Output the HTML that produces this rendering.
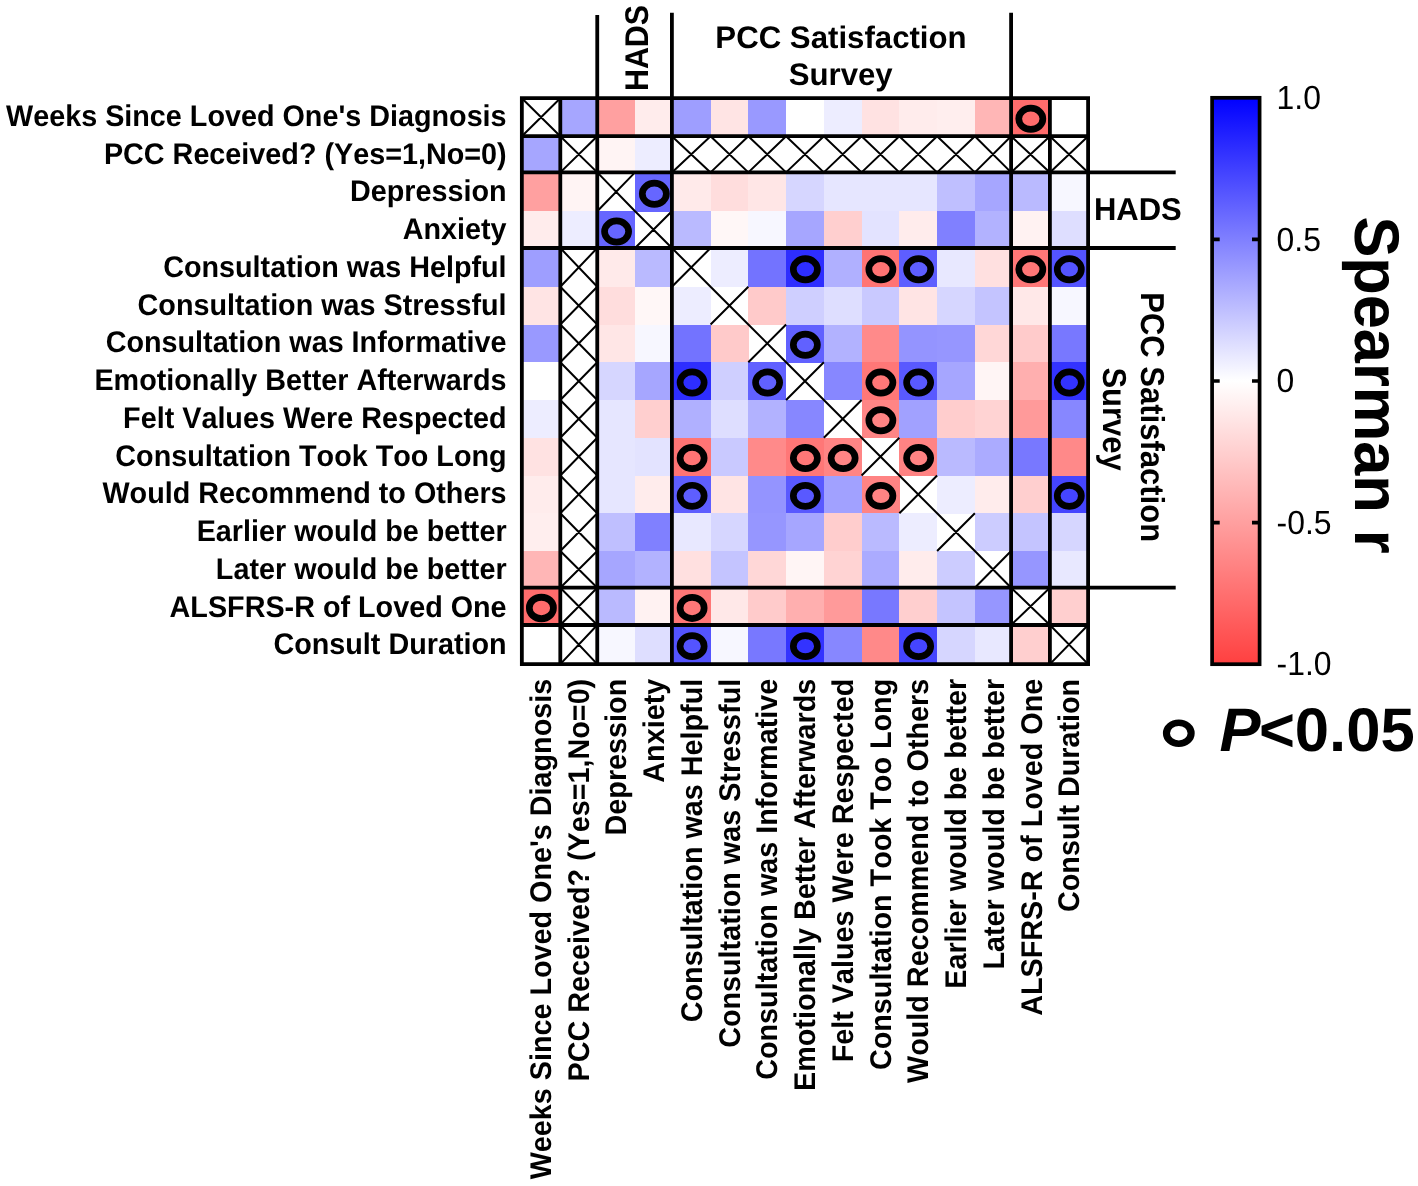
<!DOCTYPE html>
<html><head><meta charset="utf-8"><title>Spearman correlation heatmap</title>
<style>
html,body{margin:0;padding:0;background:#fff;}
body{width:1418px;height:1186px;overflow:hidden;font-family:"Liberation Sans",sans-serif;}
svg{display:block;text-rendering:geometricPrecision;font-kerning:none;}
#wrap{transform:translateZ(0);will-change:transform;}
</style></head><body>
<div id="wrap">
<svg width="1418" height="1186" viewBox="0 0 1418 1186" font-family="Liberation Sans, sans-serif" fill="#000">
<rect width="1418" height="1186" fill="#fff"/>
<g shape-rendering="crispEdges">
<rect x="560.3" y="98.2" width="37.25" height="38.3" fill="rgb(166,166,255)"/>
<rect x="597.25" y="98.2" width="38.11" height="38.3" fill="rgb(255,160,160)"/>
<rect x="635.06" y="98.2" width="37.14" height="38.3" fill="rgb(255,236,236)"/>
<rect x="671.9" y="98.2" width="38.97" height="38.3" fill="rgb(158,158,255)"/>
<rect x="710.57" y="98.2" width="38.05" height="38.3" fill="rgb(255,228,228)"/>
<rect x="748.33" y="98.2" width="38.06" height="38.3" fill="rgb(153,153,255)"/>
<rect x="786.09" y="98.2" width="38.05" height="38.3" fill="rgb(255,255,255)"/>
<rect x="823.84" y="98.2" width="38.06" height="38.3" fill="rgb(237,237,255)"/>
<rect x="861.6" y="98.2" width="38.05" height="38.3" fill="rgb(255,226,226)"/>
<rect x="899.35" y="98.2" width="38.06" height="38.3" fill="rgb(255,236,236)"/>
<rect x="937.11" y="98.2" width="38.05" height="38.3" fill="rgb(255,238,238)"/>
<rect x="974.86" y="98.2" width="36.54" height="38.3" fill="rgb(255,182,182)"/>
<rect x="1011.1" y="98.2" width="39.1" height="38.3" fill="rgb(255,108,108)"/>
<rect x="1049.9" y="98.2" width="38.5" height="38.3" fill="rgb(255,255,255)"/>
<rect x="521.85" y="136.2" width="38.75" height="36.5" fill="rgb(166,166,255)"/>
<rect x="597.25" y="136.2" width="38.11" height="36.5" fill="rgb(255,244,244)"/>
<rect x="635.06" y="136.2" width="37.14" height="36.5" fill="rgb(237,237,255)"/>
<rect x="521.85" y="172.4" width="38.75" height="39.17" fill="rgb(255,160,160)"/>
<rect x="560.3" y="172.4" width="37.25" height="39.17" fill="rgb(255,244,244)"/>
<rect x="635.06" y="172.4" width="37.14" height="39.17" fill="rgb(102,102,255)"/>
<rect x="671.9" y="172.4" width="38.97" height="39.17" fill="rgb(255,234,234)"/>
<rect x="710.57" y="172.4" width="38.05" height="39.17" fill="rgb(255,221,221)"/>
<rect x="748.33" y="172.4" width="38.06" height="39.17" fill="rgb(255,230,230)"/>
<rect x="786.09" y="172.4" width="38.05" height="39.17" fill="rgb(214,214,255)"/>
<rect x="823.84" y="172.4" width="38.06" height="39.17" fill="rgb(230,230,255)"/>
<rect x="861.6" y="172.4" width="38.05" height="39.17" fill="rgb(230,230,255)"/>
<rect x="899.35" y="172.4" width="38.06" height="39.17" fill="rgb(230,230,255)"/>
<rect x="937.11" y="172.4" width="38.05" height="39.17" fill="rgb(191,191,255)"/>
<rect x="974.86" y="172.4" width="36.54" height="39.17" fill="rgb(166,166,255)"/>
<rect x="1011.1" y="172.4" width="39.1" height="39.17" fill="rgb(186,186,255)"/>
<rect x="1049.9" y="172.4" width="38.5" height="39.17" fill="rgb(247,247,255)"/>
<rect x="521.85" y="211.27" width="38.75" height="37.03" fill="rgb(255,236,236)"/>
<rect x="560.3" y="211.27" width="37.25" height="37.03" fill="rgb(237,237,255)"/>
<rect x="597.25" y="211.27" width="38.11" height="37.03" fill="rgb(102,102,255)"/>
<rect x="671.9" y="211.27" width="38.97" height="37.03" fill="rgb(186,186,255)"/>
<rect x="710.57" y="211.27" width="38.05" height="37.03" fill="rgb(255,247,247)"/>
<rect x="748.33" y="211.27" width="38.06" height="37.03" fill="rgb(247,247,255)"/>
<rect x="786.09" y="211.27" width="38.05" height="37.03" fill="rgb(166,166,255)"/>
<rect x="823.84" y="211.27" width="38.06" height="37.03" fill="rgb(255,207,207)"/>
<rect x="861.6" y="211.27" width="38.05" height="37.03" fill="rgb(227,227,255)"/>
<rect x="899.35" y="211.27" width="38.06" height="37.03" fill="rgb(255,236,236)"/>
<rect x="937.11" y="211.27" width="38.05" height="37.03" fill="rgb(128,128,255)"/>
<rect x="974.86" y="211.27" width="36.54" height="37.03" fill="rgb(178,178,255)"/>
<rect x="1011.1" y="211.27" width="39.1" height="37.03" fill="rgb(255,242,242)"/>
<rect x="1049.9" y="211.27" width="38.5" height="37.03" fill="rgb(222,222,255)"/>
<rect x="521.85" y="248" width="38.75" height="39.07" fill="rgb(158,158,255)"/>
<rect x="597.25" y="248" width="38.11" height="39.07" fill="rgb(255,234,234)"/>
<rect x="635.06" y="248" width="37.14" height="39.07" fill="rgb(186,186,255)"/>
<rect x="710.57" y="248" width="38.05" height="39.07" fill="rgb(237,237,255)"/>
<rect x="748.33" y="248" width="38.06" height="39.07" fill="rgb(115,115,255)"/>
<rect x="786.09" y="248" width="38.05" height="39.07" fill="rgb(46,46,255)"/>
<rect x="823.84" y="248" width="38.06" height="39.07" fill="rgb(176,176,255)"/>
<rect x="861.6" y="248" width="38.05" height="39.07" fill="rgb(255,116,116)"/>
<rect x="899.35" y="248" width="38.06" height="39.07" fill="rgb(94,94,255)"/>
<rect x="937.11" y="248" width="38.05" height="39.07" fill="rgb(232,232,255)"/>
<rect x="974.86" y="248" width="36.54" height="39.07" fill="rgb(255,224,224)"/>
<rect x="1011.1" y="248" width="39.1" height="39.07" fill="rgb(255,119,119)"/>
<rect x="1049.9" y="248" width="38.5" height="39.07" fill="rgb(84,84,255)"/>
<rect x="521.85" y="286.77" width="38.75" height="38.06" fill="rgb(255,228,228)"/>
<rect x="597.25" y="286.77" width="38.11" height="38.06" fill="rgb(255,221,221)"/>
<rect x="635.06" y="286.77" width="37.14" height="38.06" fill="rgb(255,247,247)"/>
<rect x="671.9" y="286.77" width="38.97" height="38.06" fill="rgb(237,237,255)"/>
<rect x="748.33" y="286.77" width="38.06" height="38.06" fill="rgb(255,202,202)"/>
<rect x="786.09" y="286.77" width="38.05" height="38.06" fill="rgb(207,207,255)"/>
<rect x="823.84" y="286.77" width="38.06" height="38.06" fill="rgb(222,222,255)"/>
<rect x="861.6" y="286.77" width="38.05" height="38.06" fill="rgb(201,201,255)"/>
<rect x="899.35" y="286.77" width="38.06" height="38.06" fill="rgb(255,228,228)"/>
<rect x="937.11" y="286.77" width="38.05" height="38.06" fill="rgb(214,214,255)"/>
<rect x="974.86" y="286.77" width="36.54" height="38.06" fill="rgb(196,196,255)"/>
<rect x="1011.1" y="286.77" width="39.1" height="38.06" fill="rgb(255,232,232)"/>
<rect x="1049.9" y="286.77" width="38.5" height="38.06" fill="rgb(247,247,255)"/>
<rect x="521.85" y="324.53" width="38.75" height="38.05" fill="rgb(153,153,255)"/>
<rect x="597.25" y="324.53" width="38.11" height="38.05" fill="rgb(255,230,230)"/>
<rect x="635.06" y="324.53" width="37.14" height="38.05" fill="rgb(247,247,255)"/>
<rect x="671.9" y="324.53" width="38.97" height="38.05" fill="rgb(115,115,255)"/>
<rect x="710.57" y="324.53" width="38.05" height="38.05" fill="rgb(255,202,202)"/>
<rect x="786.09" y="324.53" width="38.05" height="38.05" fill="rgb(97,97,255)"/>
<rect x="823.84" y="324.53" width="38.06" height="38.05" fill="rgb(178,178,255)"/>
<rect x="861.6" y="324.53" width="38.05" height="38.05" fill="rgb(255,138,138)"/>
<rect x="899.35" y="324.53" width="38.06" height="38.05" fill="rgb(148,148,255)"/>
<rect x="937.11" y="324.53" width="38.05" height="38.05" fill="rgb(150,150,255)"/>
<rect x="974.86" y="324.53" width="36.54" height="38.05" fill="rgb(255,215,215)"/>
<rect x="1011.1" y="324.53" width="39.1" height="38.05" fill="rgb(255,203,203)"/>
<rect x="1049.9" y="324.53" width="38.5" height="38.05" fill="rgb(120,120,255)"/>
<rect x="521.85" y="362.29" width="38.75" height="38.05" fill="rgb(255,255,255)"/>
<rect x="597.25" y="362.29" width="38.11" height="38.05" fill="rgb(214,214,255)"/>
<rect x="635.06" y="362.29" width="37.14" height="38.05" fill="rgb(166,166,255)"/>
<rect x="671.9" y="362.29" width="38.97" height="38.05" fill="rgb(46,46,255)"/>
<rect x="710.57" y="362.29" width="38.05" height="38.05" fill="rgb(207,207,255)"/>
<rect x="748.33" y="362.29" width="38.06" height="38.05" fill="rgb(97,97,255)"/>
<rect x="823.84" y="362.29" width="38.06" height="38.05" fill="rgb(135,135,255)"/>
<rect x="861.6" y="362.29" width="38.05" height="38.05" fill="rgb(255,119,119)"/>
<rect x="899.35" y="362.29" width="38.06" height="38.05" fill="rgb(89,89,255)"/>
<rect x="937.11" y="362.29" width="38.05" height="38.05" fill="rgb(166,166,255)"/>
<rect x="974.86" y="362.29" width="36.54" height="38.05" fill="rgb(255,245,245)"/>
<rect x="1011.1" y="362.29" width="39.1" height="38.05" fill="rgb(255,175,175)"/>
<rect x="1049.9" y="362.29" width="38.5" height="38.05" fill="rgb(51,51,255)"/>
<rect x="521.85" y="400.04" width="38.75" height="38.05" fill="rgb(237,237,255)"/>
<rect x="597.25" y="400.04" width="38.11" height="38.05" fill="rgb(230,230,255)"/>
<rect x="635.06" y="400.04" width="37.14" height="38.05" fill="rgb(255,207,207)"/>
<rect x="671.9" y="400.04" width="38.97" height="38.05" fill="rgb(176,176,255)"/>
<rect x="710.57" y="400.04" width="38.05" height="38.05" fill="rgb(222,222,255)"/>
<rect x="748.33" y="400.04" width="38.06" height="38.05" fill="rgb(178,178,255)"/>
<rect x="786.09" y="400.04" width="38.05" height="38.05" fill="rgb(135,135,255)"/>
<rect x="861.6" y="400.04" width="38.05" height="38.05" fill="rgb(255,133,133)"/>
<rect x="899.35" y="400.04" width="38.06" height="38.05" fill="rgb(161,161,255)"/>
<rect x="937.11" y="400.04" width="38.05" height="38.05" fill="rgb(255,205,205)"/>
<rect x="974.86" y="400.04" width="36.54" height="38.05" fill="rgb(255,211,211)"/>
<rect x="1011.1" y="400.04" width="39.1" height="38.05" fill="rgb(255,154,154)"/>
<rect x="1049.9" y="400.04" width="38.5" height="38.05" fill="rgb(135,135,255)"/>
<rect x="521.85" y="437.8" width="38.75" height="38.05" fill="rgb(255,226,226)"/>
<rect x="597.25" y="437.8" width="38.11" height="38.05" fill="rgb(230,230,255)"/>
<rect x="635.06" y="437.8" width="37.14" height="38.05" fill="rgb(227,227,255)"/>
<rect x="671.9" y="437.8" width="38.97" height="38.05" fill="rgb(255,116,116)"/>
<rect x="710.57" y="437.8" width="38.05" height="38.05" fill="rgb(201,201,255)"/>
<rect x="748.33" y="437.8" width="38.06" height="38.05" fill="rgb(255,138,138)"/>
<rect x="786.09" y="437.8" width="38.05" height="38.05" fill="rgb(255,119,119)"/>
<rect x="823.84" y="437.8" width="38.06" height="38.05" fill="rgb(255,133,133)"/>
<rect x="899.35" y="437.8" width="38.06" height="38.05" fill="rgb(255,131,131)"/>
<rect x="937.11" y="437.8" width="38.05" height="38.05" fill="rgb(186,186,255)"/>
<rect x="974.86" y="437.8" width="36.54" height="38.05" fill="rgb(171,171,255)"/>
<rect x="1011.1" y="437.8" width="39.1" height="38.05" fill="rgb(120,120,255)"/>
<rect x="1049.9" y="437.8" width="38.5" height="38.05" fill="rgb(255,137,137)"/>
<rect x="521.85" y="475.55" width="38.75" height="38.06" fill="rgb(255,236,236)"/>
<rect x="597.25" y="475.55" width="38.11" height="38.06" fill="rgb(230,230,255)"/>
<rect x="635.06" y="475.55" width="37.14" height="38.06" fill="rgb(255,236,236)"/>
<rect x="671.9" y="475.55" width="38.97" height="38.06" fill="rgb(94,94,255)"/>
<rect x="710.57" y="475.55" width="38.05" height="38.06" fill="rgb(255,228,228)"/>
<rect x="748.33" y="475.55" width="38.06" height="38.06" fill="rgb(148,148,255)"/>
<rect x="786.09" y="475.55" width="38.05" height="38.06" fill="rgb(89,89,255)"/>
<rect x="823.84" y="475.55" width="38.06" height="38.06" fill="rgb(161,161,255)"/>
<rect x="861.6" y="475.55" width="38.05" height="38.06" fill="rgb(255,131,131)"/>
<rect x="937.11" y="475.55" width="38.05" height="38.06" fill="rgb(237,237,255)"/>
<rect x="974.86" y="475.55" width="36.54" height="38.06" fill="rgb(255,236,236)"/>
<rect x="1011.1" y="475.55" width="39.1" height="38.06" fill="rgb(255,207,207)"/>
<rect x="1049.9" y="475.55" width="38.5" height="38.06" fill="rgb(69,69,255)"/>
<rect x="521.85" y="513.31" width="38.75" height="38.05" fill="rgb(255,238,238)"/>
<rect x="597.25" y="513.31" width="38.11" height="38.05" fill="rgb(191,191,255)"/>
<rect x="635.06" y="513.31" width="37.14" height="38.05" fill="rgb(128,128,255)"/>
<rect x="671.9" y="513.31" width="38.97" height="38.05" fill="rgb(232,232,255)"/>
<rect x="710.57" y="513.31" width="38.05" height="38.05" fill="rgb(214,214,255)"/>
<rect x="748.33" y="513.31" width="38.06" height="38.05" fill="rgb(150,150,255)"/>
<rect x="786.09" y="513.31" width="38.05" height="38.05" fill="rgb(166,166,255)"/>
<rect x="823.84" y="513.31" width="38.06" height="38.05" fill="rgb(255,205,205)"/>
<rect x="861.6" y="513.31" width="38.05" height="38.05" fill="rgb(186,186,255)"/>
<rect x="899.35" y="513.31" width="38.06" height="38.05" fill="rgb(237,237,255)"/>
<rect x="974.86" y="513.31" width="36.54" height="38.05" fill="rgb(204,204,255)"/>
<rect x="1011.1" y="513.31" width="39.1" height="38.05" fill="rgb(196,196,255)"/>
<rect x="1049.9" y="513.31" width="38.5" height="38.05" fill="rgb(214,214,255)"/>
<rect x="521.85" y="551.06" width="38.75" height="36.94" fill="rgb(255,182,182)"/>
<rect x="597.25" y="551.06" width="38.11" height="36.94" fill="rgb(166,166,255)"/>
<rect x="635.06" y="551.06" width="37.14" height="36.94" fill="rgb(178,178,255)"/>
<rect x="671.9" y="551.06" width="38.97" height="36.94" fill="rgb(255,224,224)"/>
<rect x="710.57" y="551.06" width="38.05" height="36.94" fill="rgb(196,196,255)"/>
<rect x="748.33" y="551.06" width="38.06" height="36.94" fill="rgb(255,215,215)"/>
<rect x="786.09" y="551.06" width="38.05" height="36.94" fill="rgb(255,245,245)"/>
<rect x="823.84" y="551.06" width="38.06" height="36.94" fill="rgb(255,211,211)"/>
<rect x="861.6" y="551.06" width="38.05" height="36.94" fill="rgb(171,171,255)"/>
<rect x="899.35" y="551.06" width="38.06" height="36.94" fill="rgb(255,236,236)"/>
<rect x="937.11" y="551.06" width="38.05" height="36.94" fill="rgb(204,204,255)"/>
<rect x="1011.1" y="551.06" width="39.1" height="36.94" fill="rgb(150,150,255)"/>
<rect x="1049.9" y="551.06" width="38.5" height="36.94" fill="rgb(232,232,255)"/>
<rect x="521.85" y="587.7" width="38.75" height="37.6" fill="rgb(255,108,108)"/>
<rect x="597.25" y="587.7" width="38.11" height="37.6" fill="rgb(186,186,255)"/>
<rect x="635.06" y="587.7" width="37.14" height="37.6" fill="rgb(255,242,242)"/>
<rect x="671.9" y="587.7" width="38.97" height="37.6" fill="rgb(255,119,119)"/>
<rect x="710.57" y="587.7" width="38.05" height="37.6" fill="rgb(255,232,232)"/>
<rect x="748.33" y="587.7" width="38.06" height="37.6" fill="rgb(255,203,203)"/>
<rect x="786.09" y="587.7" width="38.05" height="37.6" fill="rgb(255,175,175)"/>
<rect x="823.84" y="587.7" width="38.06" height="37.6" fill="rgb(255,154,154)"/>
<rect x="861.6" y="587.7" width="38.05" height="37.6" fill="rgb(120,120,255)"/>
<rect x="899.35" y="587.7" width="38.06" height="37.6" fill="rgb(255,207,207)"/>
<rect x="937.11" y="587.7" width="38.05" height="37.6" fill="rgb(196,196,255)"/>
<rect x="974.86" y="587.7" width="36.54" height="37.6" fill="rgb(150,150,255)"/>
<rect x="1049.9" y="587.7" width="38.5" height="37.6" fill="rgb(255,207,207)"/>
<rect x="521.85" y="625" width="38.75" height="39.4" fill="rgb(255,255,255)"/>
<rect x="597.25" y="625" width="38.11" height="39.4" fill="rgb(247,247,255)"/>
<rect x="635.06" y="625" width="37.14" height="39.4" fill="rgb(222,222,255)"/>
<rect x="671.9" y="625" width="38.97" height="39.4" fill="rgb(84,84,255)"/>
<rect x="710.57" y="625" width="38.05" height="39.4" fill="rgb(247,247,255)"/>
<rect x="748.33" y="625" width="38.06" height="39.4" fill="rgb(120,120,255)"/>
<rect x="786.09" y="625" width="38.05" height="39.4" fill="rgb(51,51,255)"/>
<rect x="823.84" y="625" width="38.06" height="39.4" fill="rgb(135,135,255)"/>
<rect x="861.6" y="625" width="38.05" height="39.4" fill="rgb(255,137,137)"/>
<rect x="899.35" y="625" width="38.06" height="39.4" fill="rgb(69,69,255)"/>
<rect x="937.11" y="625" width="38.05" height="39.4" fill="rgb(214,214,255)"/>
<rect x="974.86" y="625" width="36.54" height="39.4" fill="rgb(232,232,255)"/>
<rect x="1011.1" y="625" width="39.1" height="39.4" fill="rgb(255,207,207)"/>
</g>
<path d="M521.85 98.2L560.3 136.2M560.3 98.2L521.85 136.2M560.3 136.2L597.25 172.4M597.25 136.2L560.3 172.4M671.9 136.2L710.57 172.4M710.57 136.2L671.9 172.4M710.57 136.2L748.33 172.4M748.33 136.2L710.57 172.4M748.33 136.2L786.09 172.4M786.09 136.2L748.33 172.4M786.09 136.2L823.84 172.4M823.84 136.2L786.09 172.4M823.84 136.2L861.6 172.4M861.6 136.2L823.84 172.4M861.6 136.2L899.35 172.4M899.35 136.2L861.6 172.4M899.35 136.2L937.11 172.4M937.11 136.2L899.35 172.4M937.11 136.2L974.86 172.4M974.86 136.2L937.11 172.4M974.86 136.2L1011.1 172.4M1011.1 136.2L974.86 172.4M1011.1 136.2L1049.9 172.4M1049.9 136.2L1011.1 172.4M1049.9 136.2L1088.1 172.4M1088.1 136.2L1049.9 172.4M597.25 172.4L635.06 211.27M635.06 172.4L597.25 211.27M635.06 211.27L671.9 248M671.9 211.27L635.06 248M560.3 248L597.25 286.77M597.25 248L560.3 286.77M671.9 248L710.57 286.77M710.57 248L671.9 286.77M560.3 286.77L597.25 324.53M597.25 286.77L560.3 324.53M710.57 286.77L748.33 324.53M748.33 286.77L710.57 324.53M560.3 324.53L597.25 362.29M597.25 324.53L560.3 362.29M748.33 324.53L786.09 362.29M786.09 324.53L748.33 362.29M560.3 362.29L597.25 400.04M597.25 362.29L560.3 400.04M786.09 362.29L823.84 400.04M823.84 362.29L786.09 400.04M560.3 400.04L597.25 437.8M597.25 400.04L560.3 437.8M823.84 400.04L861.6 437.8M861.6 400.04L823.84 437.8M560.3 437.8L597.25 475.55M597.25 437.8L560.3 475.55M861.6 437.8L899.35 475.55M899.35 437.8L861.6 475.55M560.3 475.55L597.25 513.31M597.25 475.55L560.3 513.31M899.35 475.55L937.11 513.31M937.11 475.55L899.35 513.31M560.3 513.31L597.25 551.06M597.25 513.31L560.3 551.06M937.11 513.31L974.86 551.06M974.86 513.31L937.11 551.06M560.3 551.06L597.25 587.7M597.25 551.06L560.3 587.7M974.86 551.06L1011.1 587.7M1011.1 551.06L974.86 587.7M560.3 587.7L597.25 625M597.25 587.7L560.3 625M1011.1 587.7L1049.9 625M1049.9 587.7L1011.1 625M560.3 625L597.25 664.1M597.25 625L560.3 664.1M1049.9 625L1088.1 664.1M1088.1 625L1049.9 664.1" stroke="#000" stroke-width="2" fill="none"/>
<path d="M521.85 96.3V666M519.95 98.2H1090M560.3 96.3V666M519.95 136.2H1090M597.25 15V666M519.95 172.4H1175.7M671.9 12.7V666M519.95 248H1175.7M1011.1 12.7V666M519.95 587.7H1175.7M1049.9 96.3V666M519.95 625H1090M1088.1 96.3V666M519.95 664.1H1090" stroke="#000" stroke-width="3.8" fill="none"/>
<path d="M1015.4 118.8A15.4 13.95 0 1 0 1046.2 118.8A15.4 13.95 0 1 0 1015.4 118.8ZM1022.1 118.8A8.7 7.2 0 1 1 1039.5 118.8A8.7 7.2 0 1 1 1022.1 118.8ZM638.94 193.79A15.4 13.95 0 1 0 669.74 193.79A15.4 13.95 0 1 0 638.94 193.79ZM645.64 193.79A8.7 7.2 0 1 1 663.04 193.79A8.7 7.2 0 1 1 645.64 193.79ZM601.19 231.54A15.4 13.95 0 1 0 631.99 231.54A15.4 13.95 0 1 0 601.19 231.54ZM607.89 231.54A8.7 7.2 0 1 1 625.29 231.54A8.7 7.2 0 1 1 607.89 231.54ZM789.96 269.3A15.4 13.95 0 1 0 820.76 269.3A15.4 13.95 0 1 0 789.96 269.3ZM796.66 269.3A8.7 7.2 0 1 1 814.06 269.3A8.7 7.2 0 1 1 796.66 269.3ZM865.47 269.3A15.4 13.95 0 1 0 896.27 269.3A15.4 13.95 0 1 0 865.47 269.3ZM872.17 269.3A8.7 7.2 0 1 1 889.57 269.3A8.7 7.2 0 1 1 872.17 269.3ZM903.23 269.3A15.4 13.95 0 1 0 934.03 269.3A15.4 13.95 0 1 0 903.23 269.3ZM909.93 269.3A8.7 7.2 0 1 1 927.33 269.3A8.7 7.2 0 1 1 909.93 269.3ZM1015.4 269.3A15.4 13.95 0 1 0 1046.2 269.3A15.4 13.95 0 1 0 1015.4 269.3ZM1022.1 269.3A8.7 7.2 0 1 1 1039.5 269.3A8.7 7.2 0 1 1 1022.1 269.3ZM1053.9 269.3A15.4 13.95 0 1 0 1084.7 269.3A15.4 13.95 0 1 0 1053.9 269.3ZM1060.6 269.3A8.7 7.2 0 1 1 1078 269.3A8.7 7.2 0 1 1 1060.6 269.3ZM789.96 344.81A15.4 13.95 0 1 0 820.76 344.81A15.4 13.95 0 1 0 789.96 344.81ZM796.66 344.81A8.7 7.2 0 1 1 814.06 344.81A8.7 7.2 0 1 1 796.66 344.81ZM676.7 382.56A15.4 13.95 0 1 0 707.5 382.56A15.4 13.95 0 1 0 676.7 382.56ZM683.4 382.56A8.7 7.2 0 1 1 700.8 382.56A8.7 7.2 0 1 1 683.4 382.56ZM752.21 382.56A15.4 13.95 0 1 0 783.01 382.56A15.4 13.95 0 1 0 752.21 382.56ZM758.91 382.56A8.7 7.2 0 1 1 776.31 382.56A8.7 7.2 0 1 1 758.91 382.56ZM865.47 382.56A15.4 13.95 0 1 0 896.27 382.56A15.4 13.95 0 1 0 865.47 382.56ZM872.17 382.56A8.7 7.2 0 1 1 889.57 382.56A8.7 7.2 0 1 1 872.17 382.56ZM903.23 382.56A15.4 13.95 0 1 0 934.03 382.56A15.4 13.95 0 1 0 903.23 382.56ZM909.93 382.56A8.7 7.2 0 1 1 927.33 382.56A8.7 7.2 0 1 1 909.93 382.56ZM1053.9 382.56A15.4 13.95 0 1 0 1084.7 382.56A15.4 13.95 0 1 0 1053.9 382.56ZM1060.6 382.56A8.7 7.2 0 1 1 1078 382.56A8.7 7.2 0 1 1 1060.6 382.56ZM865.47 420.32A15.4 13.95 0 1 0 896.27 420.32A15.4 13.95 0 1 0 865.47 420.32ZM872.17 420.32A8.7 7.2 0 1 1 889.57 420.32A8.7 7.2 0 1 1 872.17 420.32ZM676.7 458.07A15.4 13.95 0 1 0 707.5 458.07A15.4 13.95 0 1 0 676.7 458.07ZM683.4 458.07A8.7 7.2 0 1 1 700.8 458.07A8.7 7.2 0 1 1 683.4 458.07ZM789.96 458.07A15.4 13.95 0 1 0 820.76 458.07A15.4 13.95 0 1 0 789.96 458.07ZM796.66 458.07A8.7 7.2 0 1 1 814.06 458.07A8.7 7.2 0 1 1 796.66 458.07ZM827.72 458.07A15.4 13.95 0 1 0 858.52 458.07A15.4 13.95 0 1 0 827.72 458.07ZM834.42 458.07A8.7 7.2 0 1 1 851.82 458.07A8.7 7.2 0 1 1 834.42 458.07ZM903.23 458.07A15.4 13.95 0 1 0 934.03 458.07A15.4 13.95 0 1 0 903.23 458.07ZM909.93 458.07A8.7 7.2 0 1 1 927.33 458.07A8.7 7.2 0 1 1 909.93 458.07ZM676.7 495.83A15.4 13.95 0 1 0 707.5 495.83A15.4 13.95 0 1 0 676.7 495.83ZM683.4 495.83A8.7 7.2 0 1 1 700.8 495.83A8.7 7.2 0 1 1 683.4 495.83ZM789.96 495.83A15.4 13.95 0 1 0 820.76 495.83A15.4 13.95 0 1 0 789.96 495.83ZM796.66 495.83A8.7 7.2 0 1 1 814.06 495.83A8.7 7.2 0 1 1 796.66 495.83ZM865.47 495.83A15.4 13.95 0 1 0 896.27 495.83A15.4 13.95 0 1 0 865.47 495.83ZM872.17 495.83A8.7 7.2 0 1 1 889.57 495.83A8.7 7.2 0 1 1 872.17 495.83ZM1053.9 495.83A15.4 13.95 0 1 0 1084.7 495.83A15.4 13.95 0 1 0 1053.9 495.83ZM1060.6 495.83A8.7 7.2 0 1 1 1078 495.83A8.7 7.2 0 1 1 1060.6 495.83ZM525.98 607.95A15.4 13.95 0 1 0 556.77 607.95A15.4 13.95 0 1 0 525.98 607.95ZM532.67 607.95A8.7 7.2 0 1 1 550.08 607.95A8.7 7.2 0 1 1 532.67 607.95ZM676.7 607.95A15.4 13.95 0 1 0 707.5 607.95A15.4 13.95 0 1 0 676.7 607.95ZM683.4 607.95A8.7 7.2 0 1 1 700.8 607.95A8.7 7.2 0 1 1 683.4 607.95ZM676.7 646.15A15.4 13.95 0 1 0 707.5 646.15A15.4 13.95 0 1 0 676.7 646.15ZM683.4 646.15A8.7 7.2 0 1 1 700.8 646.15A8.7 7.2 0 1 1 683.4 646.15ZM789.96 646.15A15.4 13.95 0 1 0 820.76 646.15A15.4 13.95 0 1 0 789.96 646.15ZM796.66 646.15A8.7 7.2 0 1 1 814.06 646.15A8.7 7.2 0 1 1 796.66 646.15ZM903.23 646.15A15.4 13.95 0 1 0 934.03 646.15A15.4 13.95 0 1 0 903.23 646.15ZM909.93 646.15A8.7 7.2 0 1 1 927.33 646.15A8.7 7.2 0 1 1 909.93 646.15ZM1162.9 733.2A15.9 13.8 0 1 0 1194.7 733.2A15.9 13.8 0 1 0 1162.9 733.2ZM1170 733.2A8.8 7.3 0 1 1 1187.6 733.2A8.8 7.3 0 1 1 1170 733.2Z" fill="#000" fill-rule="evenodd"/>
<g font-weight="bold" font-size="28.75">
<text transform="translate(506.6 125.78) scale(1 1.04)" text-anchor="end">Weeks Since Loved One&#39;s Diagnosis</text>
<text transform="translate(506.6 163.53) scale(1 1.04)" text-anchor="end">PCC Received? (Yes=1,No=0)</text>
<text transform="translate(506.6 201.29) scale(1 1.04)" text-anchor="end">Depression</text>
<text transform="translate(506.6 239.04) scale(1 1.04)" text-anchor="end">Anxiety</text>
<text transform="translate(506.6 276.8) scale(1 1.04)" text-anchor="end">Consultation was Helpful</text>
<text transform="translate(506.6 314.55) scale(1 1.04)" text-anchor="end">Consultation was Stressful</text>
<text transform="translate(506.6 352.31) scale(1 1.04)" text-anchor="end">Consultation was Informative</text>
<text transform="translate(506.6 390.06) scale(1 1.04)" text-anchor="end">Emotionally Better Afterwards</text>
<text transform="translate(506.6 427.82) scale(1 1.04)" text-anchor="end">Felt Values Were Respected</text>
<text transform="translate(506.6 465.57) scale(1 1.04)" text-anchor="end">Consultation Took Too Long</text>
<text transform="translate(506.6 503.33) scale(1 1.04)" text-anchor="end">Would Recommend to Others</text>
<text transform="translate(506.6 541.08) scale(1 1.04)" text-anchor="end">Earlier would be better</text>
<text transform="translate(506.6 578.84) scale(1 1.04)" text-anchor="end">Later would be better</text>
<text transform="translate(506.6 616.59) scale(1 1.04)" text-anchor="end">ALSFRS-R of Loved One</text>
<text transform="translate(506.6 654.35) scale(1 1.04)" text-anchor="end">Consult Duration</text>
<text transform="translate(550.88 678.8) rotate(-90) scale(1 1.04)" text-anchor="end">Weeks Since Loved One&#39;s Diagnosis</text>
<text transform="translate(588.63 678.8) rotate(-90) scale(1 1.04)" text-anchor="end">PCC Received? (Yes=1,No=0)</text>
<text transform="translate(626.39 678.8) rotate(-90) scale(1 1.04)" text-anchor="end">Depression</text>
<text transform="translate(664.14 678.8) rotate(-90) scale(1 1.04)" text-anchor="end">Anxiety</text>
<text transform="translate(701.9 678.8) rotate(-90) scale(1 1.04)" text-anchor="end">Consultation was Helpful</text>
<text transform="translate(739.65 678.8) rotate(-90) scale(1 1.04)" text-anchor="end">Consultation was Stressful</text>
<text transform="translate(777.41 678.8) rotate(-90) scale(1 1.04)" text-anchor="end">Consultation was Informative</text>
<text transform="translate(815.16 678.8) rotate(-90) scale(1 1.04)" text-anchor="end">Emotionally Better Afterwards</text>
<text transform="translate(852.92 678.8) rotate(-90) scale(1 1.04)" text-anchor="end">Felt Values Were Respected</text>
<text transform="translate(890.67 678.8) rotate(-90) scale(1 1.04)" text-anchor="end">Consultation Took Too Long</text>
<text transform="translate(928.43 678.8) rotate(-90) scale(1 1.04)" text-anchor="end">Would Recommend to Others</text>
<text transform="translate(966.18 678.8) rotate(-90) scale(1 1.04)" text-anchor="end">Earlier would be better</text>
<text transform="translate(1003.94 678.8) rotate(-90) scale(1 1.04)" text-anchor="end">Later would be better</text>
<text transform="translate(1041.69 678.8) rotate(-90) scale(1 1.04)" text-anchor="end">ALSFRS-R of Loved One</text>
<text transform="translate(1079.45 678.8) rotate(-90) scale(1 1.04)" text-anchor="end">Consult Duration</text>
</g>
<g font-weight="bold" text-anchor="middle">
<text x="841" y="48.1" font-size="31.2">PCC Satisfaction</text>
<text x="840.7" y="84.6" font-size="31.2">Survey</text>
<text transform="translate(647.6 48) rotate(-90) scale(1 1.08)" font-size="30.4">HADS</text>
<text transform="translate(1141.2 417.2) rotate(90) scale(1 1.07)" font-size="31">PCC Satisfaction</text>
<text transform="translate(1102.7 419.1) rotate(90) scale(1 1.07)" font-size="31">Survey</text>
<text transform="translate(1137.8 219.9) scale(1 1.02)" font-size="31">HADS</text>
<text transform="translate(1355 216.4) rotate(90) scale(1 1.03)" font-size="61.3" text-anchor="start">Spearman r</text>
</g>
<text x="1217" y="751.4" font-size="61.6" font-weight="bold"><tspan font-style="italic" dx="2.6">P</tspan><tspan dx="-1.8">&lt;0.05</tspan></text>
<defs><linearGradient id="cb" x1="0" y1="0" x2="0" y2="1"><stop offset="0" stop-color="rgb(0,0,255)"/><stop offset="0.5" stop-color="#fff"/><stop offset="1" stop-color="rgb(255,64,64)"/></linearGradient></defs>
<rect x="1212.1" y="97.8" width="47.5" height="566.4" fill="url(#cb)" stroke="#000" stroke-width="3.7"/>
<g font-size="31.9">
<text transform="translate(1276.6 108.9) scale(1 1.05)">1.0</text>
<text transform="translate(1276.6 250.5) scale(1 1.05)">0.5</text>
<text transform="translate(1276.6 392.1) scale(1 1.05)">0</text>
<text transform="translate(1276.6 533.7) scale(1 1.05)">-0.5</text>
<text transform="translate(1276.6 675.3) scale(1 1.05)">-1.0</text>
</g>
<path d="M1212.1 239.4h7.6M1259.6 239.4h-7.6M1212.1 381h7.6M1259.6 381h-7.6M1212.1 522.6h7.6M1259.6 522.6h-7.6" stroke="#000" stroke-width="3.6" fill="none"/>
</svg>
</div>
</body></html>
